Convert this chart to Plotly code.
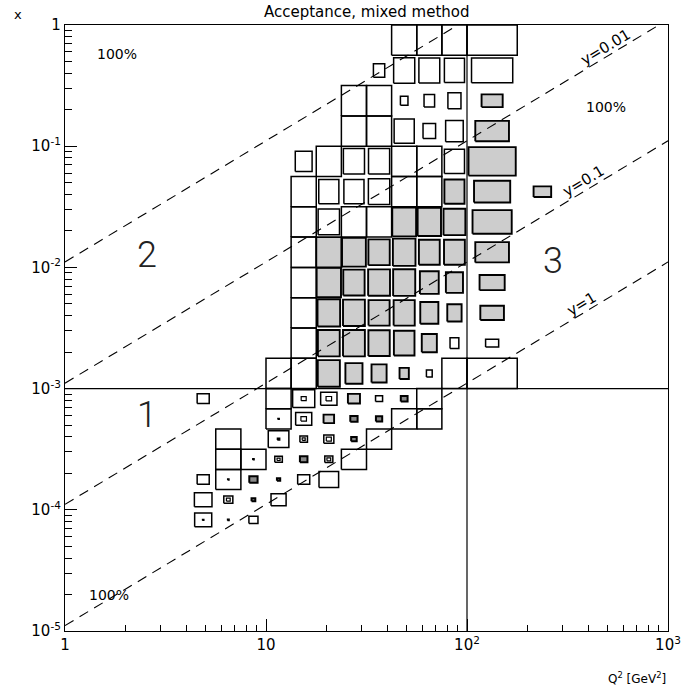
import math
import plotly.graph_objects as go

# ---------------------------------------------------------------------------
# Kinematics and binning
# ---------------------------------------------------------------------------
S_BEAM = 90200.0                   # centre-of-mass energy squared s [GeV^2]
Y_LINES = [0.001, 0.01, 0.1, 1.0]  # lines of constant inelasticity y
Y_LABELS = ["y=0.01", "y=0.1", "y=1"]
Y_LABEL_LOGQ2 = [2.71, 2.60, 2.59]  # where each label sits along its line

Q2_STEP = 1 / 8      # Q^2 bins: eighths of a decade (two columns above 100 GeV^2)
X_STEP_HI = 1 / 4    # x bins above 1e-3: quarter decades
X_STEP_LO = 1 / 6    # x bins below 1e-3: sixth decades
X_SPLIT = 1e-3
Q2_SPLIT = 100.0

# Box contents, (Q^2 column, x row, relative size).
# Upper region: row 0 is the bin just below x = 1.
open_hi = [
    (13, 0, 1), (14, 0, 1), (15, 0, 1), (16, 0, 1),
    (12, 1, .45), (13, 1, .84), (14, 1, .83), (15, 1, .8), (16, 1, .82),
    (11, 2, 1), (12, 2, 1), (13, 2, .3), (14, 2, .42), (15, 2, .52),
    (11, 3, 1), (12, 3, 1), (13, 3, .8), (14, 3, .5), (15, 3, .7),
    (9, 4, .67), (10, 4, 1), (11, 4, .84), (12, 4, .84), (13, 4, 1), (14, 4, 1), (15, 4, .8),
    (9, 5, 1), (10, 5, .8), (11, 5, .8), (12, 5, .85), (13, 5, 1), (14, 5, 1),
    (9, 6, 1), (10, 6, .85), (11, 6, 1), (12, 6, 1),
    (9, 7, 1), (9, 8, 1), (9, 9, 1),
    (9, 10, 1), (15, 10, .35), (16, 10, .26),
    (8, 11, 1), (9, 11, 1), (14, 11, .23), (15, 11, 1), (16, 11, 1),
]
shaded_hi = [
    (16, 2, .42), (16, 3, .67), (16, 4, .94),
    (15, 5, .8), (16, 5, .72), (18, 5, .35),
    (13, 6, .95), (14, 6, .93), (15, 6, .87), (16, 6, .78),
    (10, 7, 1), (11, 7, .95), (12, 7, .85), (13, 7, .9), (14, 7, .83), (15, 7, .83), (16, 7, .67),
    (10, 8, .97), (11, 8, .85), (12, 8, .87), (13, 8, .88), (14, 8, .75), (15, 8, .68), (16, 8, .5),
    (10, 9, .9), (11, 9, .87), (12, 9, .84), (13, 9, .84), (14, 9, .72), (15, 9, .57), (16, 9, .47),
    (10, 10, .87), (11, 10, .87), (12, 10, .85), (13, 10, .82), (14, 10, .6),
    (10, 11, .88), (11, 11, .68), (12, 11, .6), (13, 11, .37),
]
# Lower region: row 0 is the bin just below x = 1e-3.
open_lo = [
    (5, 0, .48), (8, 0, 1), (9, 0, .88), (10, 0, .65), (12, 0, .28), (14, 0, 1),
    (8, 1, 1), (9, 1, .64), (13, 1, 1), (14, 1, 1),
    (6, 2, 1), (8, 2, .82), (9, 2, .3), (10, 2, .4), (12, 2, 1),
    (6, 3, 1), (7, 3, 1), (8, 3, .3), (10, 3, .32), (11, 3, 1),
    (5, 4, .48), (6, 4, 1), (9, 4, .48), (10, 4, .78),
    (5, 5, .7), (6, 5, .36), (8, 5, .6),
    (5, 6, .68), (7, 6, .36),
]
shaded_lo = [(11, 0, .48), (10, 1, .42)]
dark_lo = [
    (13, 0, .27), (11, 1, .29), (12, 1, .25), (11, 2, .22),
    (9, 3, .3), (7, 4, .33), (8, 4, .13), (7, 5, .15),
]
inner_lo = [
    (9, 0, .2), (10, 0, .22), (9, 1, .22), (9, 2, .12), (10, 2, .2),
    (8, 3, .12), (10, 3, .15), (6, 5, .15),
]
dots_lo = [(8, 1, .06), (8, 2, .1), (7, 3, .06), (6, 4, .06), (5, 6, .06), (6, 6, .07)]

CORNER_TEXT = "100%"
REGION_NAMES = ["1", "2", "3"]


def ncols(col):
    return 2 if col >= 16 else 1


def box_path(entries, upper):
    xs, ys = [], []
    for col, row, size in entries:
        n = ncols(col)
        cx = (col + n / 2) * Q2_STEP
        hw = n * Q2_STEP / 2 * size
        if upper:
            cy = -(row + 0.5) * X_STEP_HI
            hh = X_STEP_HI / 2 * size
        else:
            cy = -3 - (row + 0.5) * X_STEP_LO
            hh = X_STEP_LO / 2 * size
        x0, x1 = 10 ** (cx - hw), 10 ** (cx + hw)
        y0, y1 = 10 ** (cy - hh), 10 ** (cy + hh)
        xs += [x0, x1, x1, x0, x0, None]
        ys += [y0, y0, y1, y1, y0, None]
    return xs, ys


fig = go.Figure()


def add_boxes(xs, ys, fill, width):
    fig.add_trace(go.Scatter(
        x=xs, y=ys, mode="lines",
        fill="toself" if fill else "none",
        fillcolor=fill if fill else None,
        line=dict(color="black", width=width),
        hoverinfo="skip",
    ))


add_boxes(*box_path(open_hi, True), None, 1.5)
add_boxes(*box_path(open_lo, False), None, 1.5)
add_boxes(*box_path(shaded_hi, True), "#cdcdcd", 1.9)
add_boxes(*box_path(shaded_lo, False), "#cdcdcd", 1.9)
add_boxes(*box_path(dark_lo, False), "#8a8a8a", 2.0)
add_boxes(*box_path(inner_lo, False), None, 1.2)
add_boxes(*box_path(dots_lo, False), "black", 1.2)

# region boundaries
fig.add_trace(go.Scatter(x=[Q2_SPLIT, Q2_SPLIT], y=[1e-5, 1], mode="lines",
                         line=dict(color="black", width=1.2), hoverinfo="skip"))
fig.add_trace(go.Scatter(x=[1, 1000], y=[X_SPLIT, X_SPLIT], mode="lines",
                         line=dict(color="black", width=1.2), hoverinfo="skip"))

# lines of constant y:  x = Q^2 / (s y)
for yv in Y_LINES:
    q2_end = min(1000.0, S_BEAM * yv)
    fig.add_trace(go.Scatter(
        x=[1.0, q2_end], y=[1.0 / (S_BEAM * yv), q2_end / (S_BEAM * yv)],
        mode="lines", line=dict(color="black", width=1.1, dash="10px,7px"),
        hoverinfo="skip",
    ))

for txt, yv, lq in zip(Y_LABELS, Y_LINES[1:], Y_LABEL_LOGQ2):
    fig.add_annotation(
        x=lq, y=lq - math.log10(S_BEAM * yv), xref="x", yref="y",
        text=txt, showarrow=False, textangle=-31,
        xshift=-4, yshift=8,
        font=dict(family="DejaVu Sans", size=15, color="black"),
    )

# region numbers and corner labels
for txt, (lq, lx) in zip(REGION_NAMES, [(0.41, -3.22), (0.41, -1.9), (2.43, -1.95)]):
    fig.add_annotation(x=lq, y=lx, xref="x", yref="y", text=txt, showarrow=False,
                       font=dict(family="Roboto", size=36, color="#222", weight=300))
for lq, lx in [(0.26, -0.24), (2.69, -0.68), (0.22, -4.7)]:
    fig.add_annotation(x=lq, y=lx, xref="x", yref="y", text=CORNER_TEXT, showarrow=False,
                       font=dict(family="DejaVu Sans", size=14, color="black"))

# titles
fig.add_annotation(x=0.5, y=1 + 13 / 606, xref="paper", yref="paper",
                   text="Acceptance, mixed method", showarrow=False,
                   yanchor="middle", font=dict(family="DejaVu Sans", size=15))
fig.add_annotation(x=-0.088, y=1 + 11 / 606, xref="paper", yref="paper",
                   text="x", showarrow=False, yanchor="middle",
                   font=dict(family="DejaVu Sans", size=13))
fig.add_annotation(x=1.0, y=-47 / 606, xref="paper", yref="paper",
                   text="Q<sup>2</sup> [GeV<sup>2</sup>]", showarrow=False,
                   xanchor="right", yanchor="middle",
                   font=dict(family="DejaVu Sans", size=12))

minor_x = [m * 10 ** d for d in range(3) for m in range(2, 10)]
minor_y = [m * 10.0 ** d for d in range(-5, 0) for m in range(2, 10)]

axis_common = dict(
    type="log", showgrid=False, zeroline=False, showline=True,
    linecolor="black", linewidth=1.2, mirror=True, automargin=False,
    ticks="inside", ticklen=12, tickwidth=1, tickcolor="black",
    tickfont=dict(family="DejaVu Sans", size=15, color="black"),
)
fig.update_xaxes(
    **axis_common, range=[0, 3],
    tickvals=[1, 10, 100, 1000],
    ticktext=["1", "10", "10<sup>2</sup>", "10<sup>3</sup>"],
    minor=dict(tickvals=minor_x, ticks="inside", ticklen=6, tickcolor="black", showgrid=False),
)
fig.update_yaxes(
    **axis_common, range=[-5, 0],
    tickvals=[1e-5, 1e-4, 1e-3, 1e-2, 1e-1, 1],
    ticktext=["10<sup>-5</sup>", "10<sup>-4</sup>", "10<sup>-3</sup>",
              "10<sup>-2</sup>", "10<sup>-1</sup>", "1"],
    minor=dict(tickvals=minor_y, ticks="inside", ticklen=7, tickcolor="black", showgrid=False),
)

fig.update_layout(
    width=686, height=688,
    margin=dict(l=65, r=18, t=25, b=57),
    plot_bgcolor="white", paper_bgcolor="white",
    showlegend=False,
    font=dict(family="DejaVu Sans", size=14, color="black"),
)

fig.write_html("out.html")
